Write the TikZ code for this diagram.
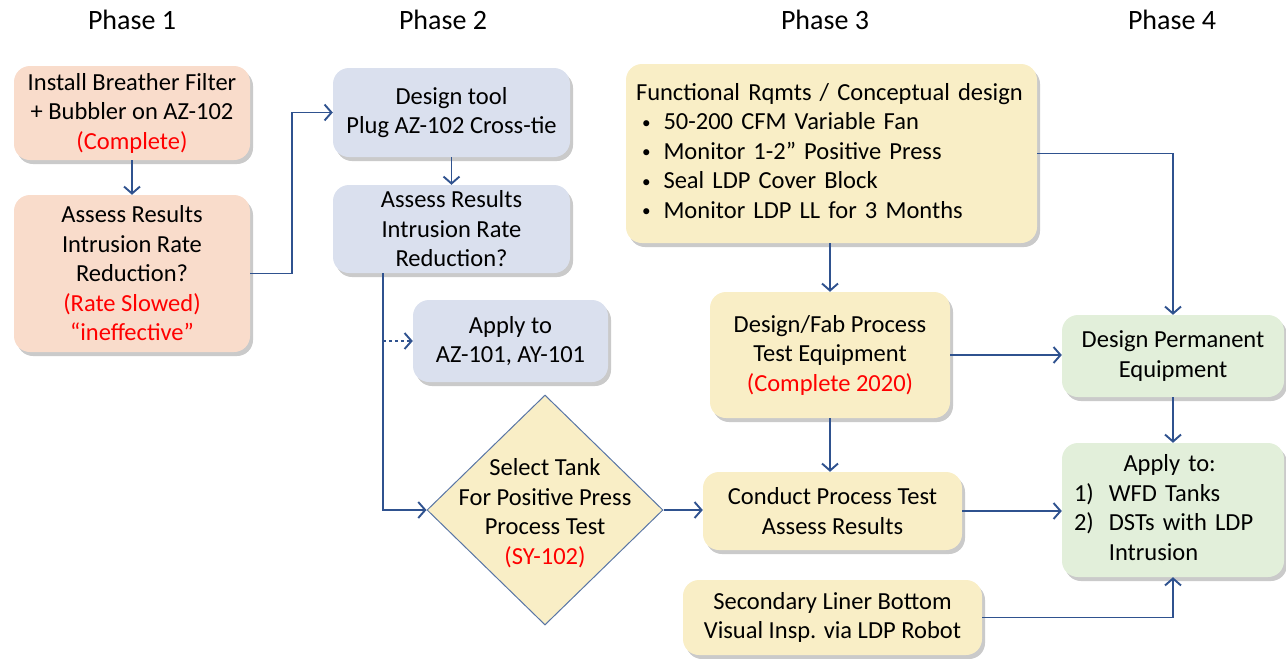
\documentclass[tikz,border=0pt]{standalone}
\usepackage{fontspec}
\setmainfont{Carlito}
\usepackage{xcolor}
\usepackage{tikz}
\usetikzlibrary{positioning,arrows.meta,shapes.geometric,shadows}

\definecolor{peach}{RGB}{249,220,203}
\definecolor{bluegr}{RGB}{218,224,238}
\definecolor{cream}{RGB}{249,238,198}
\definecolor{mint}{RGB}{226,239,218}
\definecolor{arr}{RGB}{47,82,143}
\definecolor{rd}{RGB}{255,0,0}
\newcommand{\blt}{\raisebox{1.5pt}{\scalebox{0.7}{\textbullet}}}

\begin{document}
\begin{tikzpicture}[x=1pt, y=-1pt,
  font=\fontsize{24.5}{29.5}\selectfont,
  blk/.style={rounded corners=16pt, align=center, inner sep=0pt,
    drop shadow={shadow xshift=3pt, shadow yshift=-4pt, opacity=0.35, fill=black!60}},
  ph1/.style={blk, fill=peach},
  ph2/.style={blk, fill=bluegr},
  ph3/.style={blk, fill=cream},
  ph4/.style={blk, fill=mint},
  phase/.style={font=\fontsize{28}{32}\selectfont},
  >={Straight Barb[length=7pt, width=16pt]},
  link/.style={draw=arr, line width=1.9pt}]
\useasboundingbox (0,0) rectangle (1286,659);
% phase titles
\node[phase] (p1) at (132,20)  {Phase 1};
\node[phase] (p2) at (443,20)  {Phase 2};
\node[phase] (p3) at (825,20)  {Phase 3};
\node[phase] (p4) at (1172,20) {Phase 4};
% phase 1
\node[ph1, minimum width=236pt, minimum height=94pt] (inst) at (132,113)
  {Install Breather Filter\\+ Bubbler on AZ-102\\\textcolor{rd}{(Complete)}};
\node[ph1, minimum width=236pt, minimum height=157pt] (ass1) at (132,273.5)
  {Assess Results\\Intrusion Rate\\Reduction?\\\textcolor{rd}{(Rate Slowed)}\\\textcolor{rd}{“ineffective”}};
% phase 2
\node[ph2, minimum width=237pt, minimum height=89pt] (tool) at (451.5,112.5)
  {Design tool\\Plug AZ-102 Cross-tie};
\node[ph2, minimum width=237pt, minimum height=88pt] (ass2) at (451.5,229)
  {Assess Results\\Intrusion Rate\\Reduction?};
\node[ph2, minimum width=195pt, minimum height=82pt] (appl) at (510.5,341)
  {Apply to\\AZ-101, AY-101};
\node[draw=arr!80, line width=1pt, fill=cream, diamond, inner sep=0pt,
  minimum width=236pt, minimum height=230pt] (sel) at (545,510) {};
\node[align=center] (selt) at (545,513)
  {Select Tank\\For Positive Press\\Process Test\\\textcolor{rd}{(SY-102)}};
% phase 3
\node[ph3, minimum width=411pt, minimum height=179pt, text width=391pt, align=left] (func) at (831.5,153.5)
  {\begin{tabular}{@{}l@{\hspace{13pt}}l@{}}
   \multicolumn{2}{@{}l@{}}{Functional Rqmts / Conceptual design}\\
   \hspace{6pt}\blt & 50-200 CFM Variable Fan\\
   \hspace{6pt}\blt & Monitor 1-2” Positive Press\\
   \hspace{6pt}\blt & Seal LDP Cover Block\\
   \hspace{6pt}\blt & Monitor LDP LL\ for 3 Months
   \end{tabular}};
\node[ph3, minimum width=240pt, minimum height=126pt] (fab) at (830,355)
  {Design/Fab Process\\Test Equipment\\\textcolor{rd}{(Complete 2020)}};
\node[ph3, minimum width=259pt, minimum height=78pt] (cond) at (832.5,511)
  {Conduct Process Test\\Assess Results};
\node[ph3, minimum width=299pt, minimum height=75pt] (insp) at (832.5,617.5)
  {Secondary Liner Bottom\\Visual Insp. via LDP Robot};
% phase 4
\node[ph4, minimum width=222pt, minimum height=82pt] (perm) at (1173,356)
  {Design Permanent\\Equipment};
\node[ph4, minimum width=222pt, minimum height=134pt, text width=198pt, align=left] (appl2) at (1173,510)
  {\begin{tabular}{@{}l@{\hspace{15pt}}l@{}}
   \multicolumn{2}{@{}c@{\hspace{-12pt}}}{Apply to:}\\
   1) & WFD Tanks\\
   2) & DSTs with LDP\\
      & Intrusion
   \end{tabular}};
% connectors
\draw[link, ->] (inst) -- (ass1);
\draw[link, ->] (ass1.east) -- ++(42,0) |- (tool.west);
\draw[link, ->] (tool) -- (ass2);
\draw[link, ->] (ass2.south west) ++(50,0) |- (sel.west);
\draw[link, ->, dashed] (appl.west) ++(-30,0) -- (appl.west);
\draw[link, ->] (sel.east) -- (sel.east -| cond.west);
\draw[link, ->] (func.south -| fab.north) -- (fab.north);
\draw[link, ->] (fab.south) -- (fab.south |- cond.north);
\draw[link, ->] (fab.east) -- (fab.east -| perm.west);
\draw[link, ->] (cond.east) -- (cond.east -| appl2.west);
\draw[link, ->] (func.east) -| (perm.north);
\draw[link, ->] (perm) -- (appl2);
\draw[link, ->] (insp.east) -| (appl2.south);
\end{tikzpicture}
\end{document}
